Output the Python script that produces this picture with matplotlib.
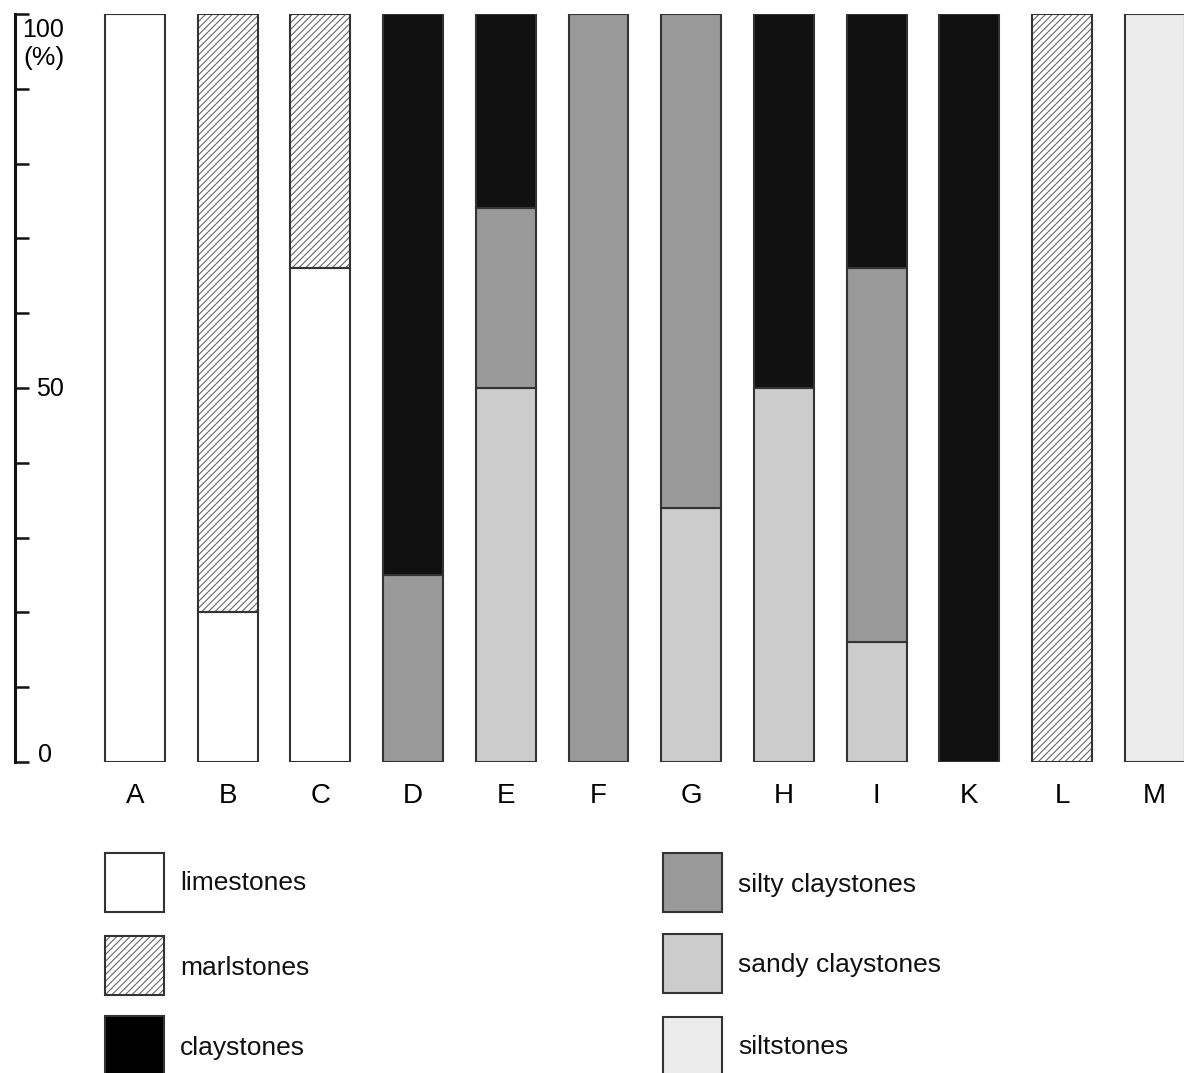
import numpy as np
import matplotlib
matplotlib.use("Agg")
import matplotlib.pyplot as plt
from matplotlib.patches import Rectangle

plt.rcParams['font.family'] = ['Liberation Sans', 'DejaVu Sans']
plt.rcParams['hatch.linewidth'] = 0.8

# Sections and lithology shares (%) per section, stacked bottom to top
sections = ['A', 'B', 'C', 'D', 'E', 'F', 'G', 'H', 'I', 'K', 'L', 'M']
limestones = [100, 20, 66, 0, 0, 0, 0, 0, 0, 0, 0, 0]
marlstones = [0, 80, 34, 0, 0, 0, 0, 0, 0, 0, 100, 0]
siltstones = [0, 0, 0, 0, 0, 0, 0, 0, 0, 0, 0, 100]
sandy_claystones = [0, 0, 0, 0, 50, 0, 34, 50, 16, 0, 0, 0]
silty_claystones = [0, 0, 0, 25, 24, 100, 66, 0, 50, 0, 0, 0]
claystones = [0, 0, 0, 75, 26, 0, 0, 50, 34, 100, 0, 0]

ytick_values = [0, 10, 20, 30, 40, 50, 60, 70, 80, 90, 100]
ytick_labels = {0: '0', 50: '50', 100: '100'}
unit_label = '(%)'

HATCH = '/////'
layers = [
    ('limestones', limestones, '#ffffff', None),
    ('marlstones', marlstones, '#ffffff', HATCH),
    ('siltstones', siltstones, '#ececec', None),
    ('sandy claystones', sandy_claystones, '#cccccc', None),
    ('silty claystones', silty_claystones, '#999999', None),
    ('claystones', claystones, '#111111', None),
]
legend_left = ['limestones', 'marlstones', 'claystones']
legend_right = ['silty claystones', 'sandy claystones', 'siltstones']
legend_fill = {'limestones': '#ffffff', 'marlstones': '#ffffff', 'claystones': '#000000',
               'silty claystones': '#999999', 'sandy claystones': '#cccccc',
               'siltstones': '#ececec'}

W, H = 1184, 1073
fig = plt.figure(figsize=(W / 100, H / 100), dpi=100)

ax_left_px, ax_right_px = 15, 1184
ax_top_px, ax_bot_px = 14, 762
ax = fig.add_axes([ax_left_px / W, 1 - ax_bot_px / H,
                   (ax_right_px - ax_left_px) / W, (ax_bot_px - ax_top_px) / H])

x = np.arange(len(sections))
step_px, first_px = 92.7, 135
ax.set_xlim((ax_left_px - first_px) / step_px, (ax_right_px - first_px) / step_px)
ax.set_ylim(0, 100)

width = 0.647
edge = '#333333'
hatch_col = '#666666'
bottom = np.zeros(len(sections))
for name, vals, fc, hatch in layers:
    vals = np.array(vals, dtype=float)
    if hatch:
        ax.bar(x, vals, width, bottom=bottom, color=fc, edgecolor=hatch_col,
               linewidth=0, hatch=hatch, zorder=2)
        ax.bar(x, vals, width, bottom=bottom, fill=False, edgecolor=edge,
               linewidth=1.5, zorder=3)
    else:
        mask = vals > 0
        ax.bar(x[mask], vals[mask], width, bottom=bottom[mask], color=fc,
               edgecolor=edge, linewidth=1.5, zorder=3)
    bottom += vals

for s in ['top', 'right', 'bottom']:
    ax.spines[s].set_visible(False)
ax.spines['left'].set_linewidth(2.2)
ax.spines['left'].set_color('#111111')
ax.spines['left'].set_capstyle('projecting')
ax.set_yticks(ytick_values)
ax.set_yticklabels([])
ax.tick_params(axis='y', direction='in', length=10, width=1.8, color='#111111')
ax.set_xticks([])

# Y value labels, right of the axis line
tr = ax.get_yaxis_transform()
fs_tick = 18
ax.annotate(ytick_labels[100], xy=(0, 100), xycoords=tr, xytext=(7, -23),
            textcoords='offset pixels', ha='left', va='baseline', fontsize=fs_tick)
ax.annotate(unit_label, xy=(0, 100), xycoords=tr, xytext=(8, -51),
            textcoords='offset pixels', ha='left', va='baseline', fontsize=19)
ax.annotate(ytick_labels[50], xy=(0, 50), xycoords=tr, xytext=(21, -8.5),
            textcoords='offset pixels', ha='left', va='baseline', fontsize=fs_tick)
ax.annotate(ytick_labels[0], xy=(0, 0), xycoords=tr, xytext=(23, 0),
            textcoords='offset pixels', ha='left', va='baseline', fontsize=fs_tick)

# Section letters under the bars
for xi, name in zip(x, sections):
    ax.annotate(name, xy=(xi, 0), xycoords=('data', 'axes fraction'),
                xytext=(0, -41), textcoords='offset pixels',
                ha='center', va='baseline', fontsize=20)

# Legend drawn in figure pixel space
lax = fig.add_axes([0, 0, 1, 1], zorder=-1)
lax.set_xlim(0, W)
lax.set_ylim(H, 0)
lax.axis('off')

def legend_entry(name, bx, by, tx, ty):
    fc = legend_fill[name]
    if name == 'marlstones':
        lax.add_patch(Rectangle((bx, by), 59, 59, facecolor=fc, edgecolor=hatch_col,
                                linewidth=0, hatch=HATCH))
        lax.add_patch(Rectangle((bx, by), 59, 59, fill=False, edgecolor=edge, linewidth=1.5))
    else:
        lax.add_patch(Rectangle((bx, by), 59, 59, facecolor=fc, edgecolor=edge, linewidth=1.5))
    lax.text(tx, ty, name, ha='left', va='center', fontsize=19, color='#111111')

for name, by, ty in zip(legend_left, [853, 936, 1016], [883, 968, 1048]):
    legend_entry(name, 105, by, 180, ty)
for name, by, ty in zip(legend_right, [853, 934, 1017], [885, 965, 1047]):
    legend_entry(name, 663, by, 738, ty)

fig.savefig('out.png', dpi=100)
